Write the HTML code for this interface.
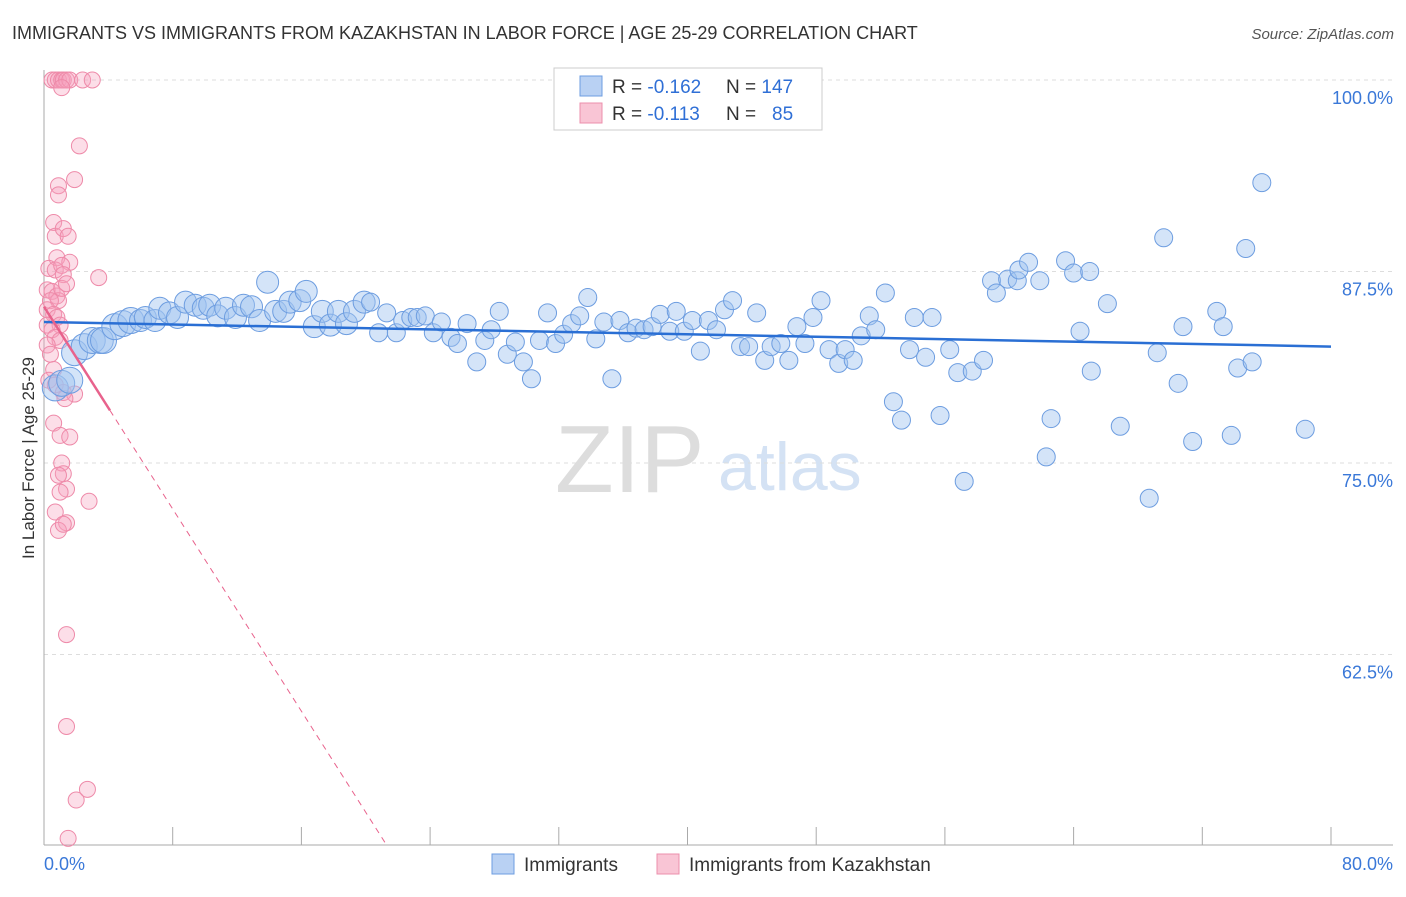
<!DOCTYPE html>
<html><head><meta charset="utf-8"><style>
body{margin:0;background:#fff;font-family:"Liberation Sans",sans-serif}
svg text{font-family:"Liberation Sans",sans-serif}
</style></head><body>
<svg id="c" width="1406" height="892">
<text x="12" y="39" font-size="18" fill="#333">IMMIGRANTS VS IMMIGRANTS FROM KAZAKHSTAN IN LABOR FORCE | AGE 25-29 CORRELATION CHART</text>
<text x="1394" y="39" font-size="15" fill="#555" font-style="italic" text-anchor="end">Source: ZipAtlas.com</text>
<text x="0" y="0" transform="translate(34,458) rotate(-90)" font-size="17" fill="#333" text-anchor="middle">In Labor Force | Age 25-29</text>
<g><text x="555" y="492" font-size="96" fill="#ddd" font-family="Liberation Serif">ZIP</text><text x="718" y="490" font-size="68" fill="#d4e2f4">atlas</text></g>
<g id="grid"></g><g id="axes"></g><g id="pts"></g><g id="trend"></g>
<g>
<rect x="554" y="68" width="268" height="62" fill="#fff" stroke="#ccc"/>
<rect x="580" y="76" width="22" height="20" fill="#b9d1f3" stroke="#6d9de0"/>
<rect x="580" y="103" width="22" height="20" fill="#f9c5d5" stroke="#ec8fac"/>
<text x="612" y="93" font-size="19" fill="#333">R = <tspan fill="#2f6fd6">-0.162</tspan><tspan x="726">N = </tspan><tspan fill="#2f6fd6">147</tspan></text>
<text x="612" y="120" font-size="19" fill="#333">R = <tspan fill="#2f6fd6"> -0.113</tspan><tspan x="726">N = </tspan><tspan fill="#2f6fd6" x="772">85</tspan></text>
</g>
<g>
<rect x="492" y="854" width="22" height="20" fill="#b9d1f3" stroke="#6d9de0"/>
<text x="524" y="871" font-size="19" fill="#333">Immigrants</text>
<rect x="657" y="854" width="22" height="20" fill="#f9c5d5" stroke="#ec8fac"/>
<text x="689" y="871" font-size="19" fill="#333">Immigrants from Kazakhstan</text>
</g>
</svg>
<script>
const yTicks=[100,87.5,75,62.5];
const yTickLabels=["100.0%","87.5%","75.0%","62.5%"];
const xTickLabels=["0.0%","80.0%"];
const blueX=[0.7,1.1,1.6,1.9,2.5,3.0,3.5,3.7,4.4,4.9,5.4,6.0,6.3,6.9,7.2,7.8,8.3,8.8,9.4,9.9,10.3,10.8,11.3,11.9,12.4,12.9,13.4,13.9,14.4,14.9,15.3,15.9,16.3,16.8,17.3,17.8,18.3,18.8,19.3,19.9,20.3,20.8,21.3,21.9,22.3,22.8,23.2,23.7,24.2,24.7,25.3,25.7,26.3,26.9,27.4,27.8,28.3,28.8,29.3,29.8,30.3,30.8,31.3,31.8,32.3,32.8,33.3,33.8,34.3,34.8,35.3,35.8,36.3,36.8,37.3,37.8,38.3,38.9,39.3,39.8,40.3,40.8,41.3,41.8,42.3,42.8,43.3,43.8,44.3,44.8,45.2,45.8,46.3,46.8,47.3,47.8,48.3,48.8,49.4,49.8,50.3,50.8,51.3,51.7,52.3,52.8,53.3,53.8,54.1,54.8,55.2,55.7,56.3,56.8,57.2,57.7,58.4,58.9,59.2,59.9,60.5,60.6,61.2,61.9,62.3,62.6,63.5,64.0,64.4,65.0,65.1,66.1,66.9,68.7,69.2,69.6,70.5,70.8,71.4,72.9,73.3,73.8,74.2,74.7,75.1,75.7,78.4];
const blueY=[79.9,80.2,80.4,82.2,82.6,83.0,83.0,83.0,83.9,84.1,84.3,84.3,84.5,84.3,85.1,84.8,84.5,85.5,85.3,85.1,85.3,84.6,85.1,84.5,85.3,85.2,84.3,86.8,84.9,84.9,85.5,85.6,86.2,83.9,84.9,84.0,84.9,84.1,84.9,85.5,85.5,83.5,84.8,83.5,84.3,84.5,84.5,84.6,83.5,84.2,83.2,82.8,84.1,81.6,83.0,83.7,84.9,82.1,82.9,81.6,80.5,83.0,84.8,82.8,83.4,84.1,84.6,85.8,83.1,84.2,80.5,84.3,83.5,83.8,83.7,83.9,84.7,83.6,84.9,83.6,84.3,82.3,84.3,83.7,85.0,85.6,82.6,82.6,84.8,81.7,82.6,82.8,81.7,83.9,82.8,84.5,85.6,82.4,81.5,82.4,81.7,83.3,84.6,83.7,86.1,79.0,77.8,82.4,84.5,81.9,84.5,78.1,82.4,80.9,73.8,81.0,81.7,86.9,86.1,87.0,86.9,87.6,88.1,86.9,75.4,77.9,88.2,87.4,83.6,87.5,81.0,85.4,77.4,72.7,82.2,89.7,80.2,83.9,76.4,84.9,83.9,76.8,81.2,89.0,81.6,93.3,77.2];
const pinkX=[0.5,0.7,0.9,1.1,1.2,1.4,1.6,2.4,3.0,1.1,2.2,0.9,1.9,0.9,0.6,0.7,1.2,1.5,0.8,1.6,0.3,0.7,1.1,1.2,3.4,0.2,0.5,0.8,0.9,1.1,1.4,0.4,0.2,0.6,0.8,1.0,0.2,0.5,0.7,1.0,0.2,0.4,0.6,0.3,0.7,1.2,1.9,1.3,0.6,1.0,1.6,1.1,1.2,0.9,1.4,1.0,2.8,0.7,1.4,0.9,1.2,1.4,1.4,2.0,2.7,1.5];
const pinkY=[100,100,100,100,100,100,100,100,100,99.5,95.7,93.1,93.5,92.5,90.7,89.8,90.3,89.8,88.4,88.1,87.7,87.6,87.9,87.3,87.1,86.3,86.2,85.9,85.6,86.4,86.7,85.6,85.0,84.7,84.5,84.0,84.0,83.7,83.2,83.0,82.7,82.1,81.1,80.4,80.1,79.6,79.5,79.2,77.6,76.8,76.7,75.0,74.3,74.2,73.3,73.1,72.5,71.8,71.1,70.6,71.0,63.8,57.8,53.0,53.7,50.5];
const blueTrend=[84.2,82.6]; // y at x=0 and x=80
const pinkTrend=[85.2,-1.65]; // intercept, slope
const pinkSolidEnd=4.1;
const NS="http://www.w3.org/2000/svg";
const X=v=>44+v*(1331-44)/80;
const Y=v=>80+(100-v)*191.5/12.5;
function mk(t,a,p){const e=document.createElementNS(NS,t);for(const k in a)e.setAttribute(k,a[k]);document.getElementById(p).appendChild(e);return e;}
yTicks.forEach((t,i)=>{
 const g=mk('line',{x1:44,x2:1393,y1:Y(t),y2:Y(t),stroke:'#ddd','stroke-dasharray':'4,4'},'grid');
 
 
 const l=mk('text',{x:1393,y:Y(t)+24,'font-size':18,fill:'#3a78d8','text-anchor':'end'},'axes');
 l.textContent=yTickLabels[i];
 
 
});
let a=mk('line',{x1:44,x2:44,y1:70,y2:845,stroke:'#aaa'},'axes');


a=mk('line',{x1:44,x2:1393,y1:845,y2:845,stroke:'#aaa'},'axes');


for(let i=0;i<=10;i++){const t=mk('line',{x1:X(i*8),x2:X(i*8),y1:827,y2:845,stroke:'#aaa'},'axes');
 
 }
[[0,'start',44],[80,'end',1393]].forEach((d,i)=>{const t=mk('text',{x:d[2],y:870,'font-size':18,fill:'#3a78d8','text-anchor':d[1]},'axes');t.textContent=xTickLabels[i];
 
 });
pinkX.forEach((x,i)=>{const c=mk('circle',{cx:X(x),cy:Y(pinkY[i]),r:8,fill:'rgba(246,160,188,0.35)',stroke:'#ee8aa9','stroke-width':1},'pts');
 
 });
blueX.forEach((x,i)=>{const r=x<6?13:x<20?11:9;const c=mk('circle',{cx:X(x),cy:Y(blueY[i]),r:r,fill:'rgba(160,195,240,0.45)',stroke:'#6d9de0','stroke-width':1},'pts');
 
 });
let t=mk('line',{x1:X(0),y1:Y(blueTrend[0]),x2:X(80),y2:Y(blueTrend[1]),stroke:'#2a6fd4','stroke-width':2.5},'trend');


t=mk('line',{x1:X(0),y1:Y(pinkTrend[0]),x2:X(pinkSolidEnd),y2:Y(pinkTrend[0]+pinkTrend[1]*pinkSolidEnd),stroke:'#e8628c','stroke-width':2.5},'trend');


const xe=(50-pinkTrend[0])/pinkTrend[1];
t=mk('line',{x1:X(pinkSolidEnd),y1:Y(pinkTrend[0]+pinkTrend[1]*pinkSolidEnd),x2:X(xe),y2:Y(50),stroke:'#e8628c','stroke-width':1,'stroke-dasharray':'6,5'},'trend');


</script>
</body></html>
